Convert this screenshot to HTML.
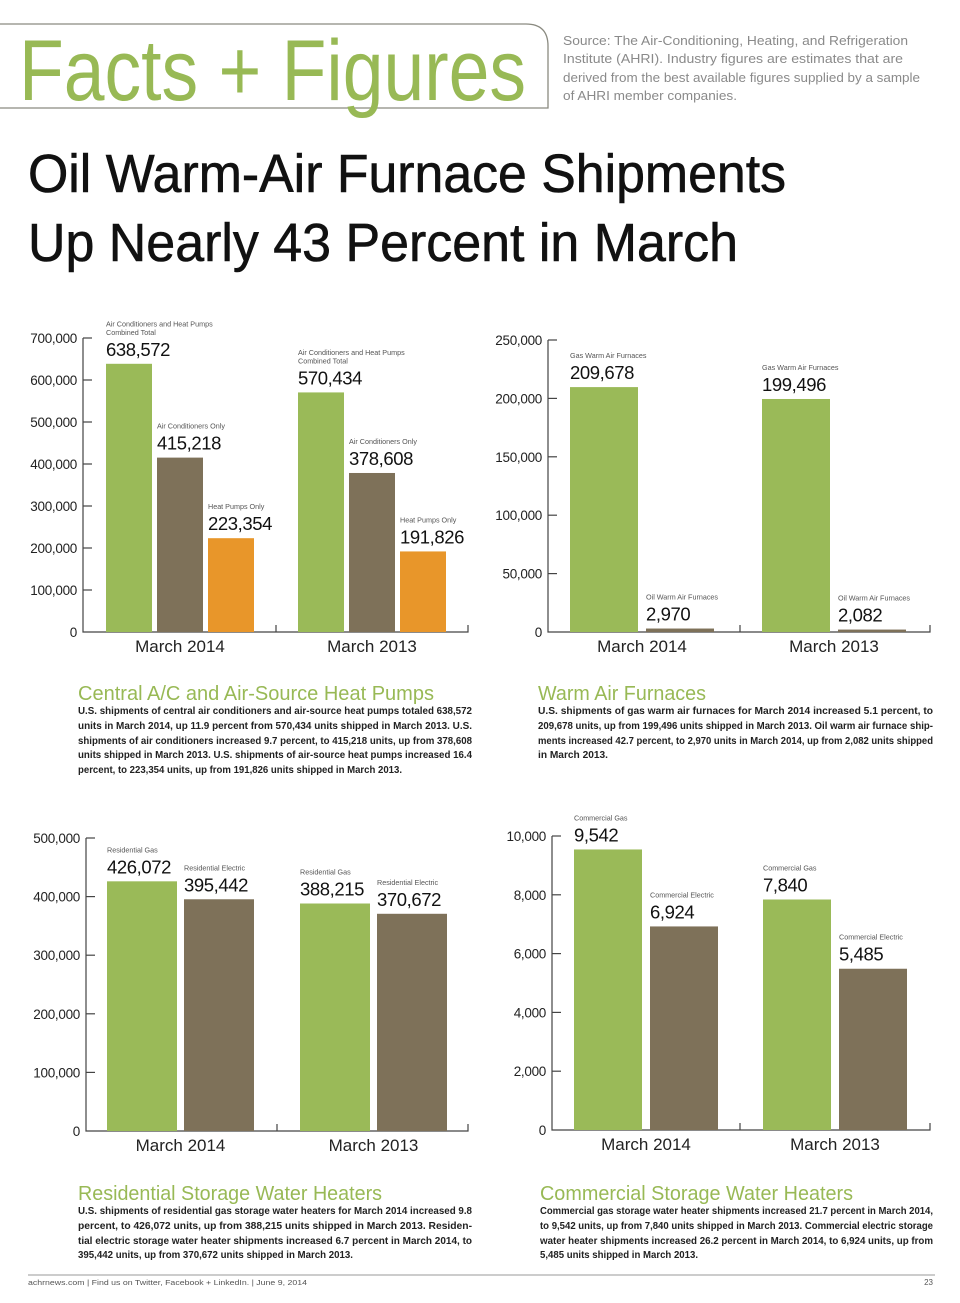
<!DOCTYPE html>
<html><head><meta charset="utf-8">
<style>
html,body{margin:0;padding:0;background:#fff;}
body{width:960px;height:1303px;position:relative;overflow:hidden;font-family:"Liberation Sans",sans-serif;}
svg{position:absolute;left:0;top:0;}
.p{font-size:10.4px;font-weight:bold;fill:#222;}
</style></head>
<body>
<svg id="page" width="960" height="1303" viewBox="0 0 960 1303" xmlns="http://www.w3.org/2000/svg" font-family="Liberation Sans, sans-serif">
<path d="M0 24 H526 Q548 24 548 46 V108 H0" fill="none" stroke="#8a8a80" stroke-width="1.3"/>
<text x="19" y="100" font-size="86" fill="#98b955" textLength="507" lengthAdjust="spacingAndGlyphs">Facts + Figures</text>
<g font-size="13" fill="#8a8a8a">
<text x="563" y="45" textLength="345" lengthAdjust="spacingAndGlyphs">Source: The Air-Conditioning, Heating, and Refrigeration</text>
<text x="563" y="63" textLength="340" lengthAdjust="spacingAndGlyphs">Institute (AHRI). Industry figures are estimates that are</text>
<text x="563" y="82" textLength="357" lengthAdjust="spacingAndGlyphs">derived from the best available figures supplied by a sample</text>
<text x="563" y="100" textLength="174" lengthAdjust="spacingAndGlyphs">of AHRI member companies.</text>
</g>
<text x="28" y="192" font-size="54" fill="#111" stroke="#111" stroke-width="0.6" textLength="758" lengthAdjust="spacingAndGlyphs">Oil Warm-Air Furnace Shipments</text>
<text x="28" y="261" font-size="54" fill="#111" stroke="#111" stroke-width="0.6" textLength="710" lengthAdjust="spacingAndGlyphs">Up Nearly 43 Percent in March</text>

<text x="78" y="700" font-size="20" fill="#98b955" textLength="356" lengthAdjust="spacingAndGlyphs">Central A/C and Air-Source Heat Pumps</text>
<text x="538" y="700" font-size="20" fill="#98b955" textLength="168" lengthAdjust="spacingAndGlyphs">Warm Air Furnaces</text>
<text x="78" y="1200" font-size="20" fill="#98b955" textLength="304" lengthAdjust="spacingAndGlyphs">Residential Storage Water Heaters</text>
<text x="540" y="1200" font-size="20" fill="#98b955" textLength="313" lengthAdjust="spacingAndGlyphs">Commercial Storage Water Heaters</text>

<g class="p">
<text x="78" y="714" textLength="394" lengthAdjust="spacingAndGlyphs">U.S. shipments of central air conditioners and air-source heat pumps totaled 638,572</text>
<text x="78" y="729" textLength="394" lengthAdjust="spacingAndGlyphs">units in March 2014, up 11.9 percent from 570,434 units shipped in March 2013. U.S.</text>
<text x="78" y="744" textLength="394" lengthAdjust="spacingAndGlyphs">shipments of air conditioners increased 9.7 percent, to 415,218 units, up from 378,608</text>
<text x="78" y="758" textLength="394" lengthAdjust="spacingAndGlyphs">units shipped in March 2013. U.S. shipments of air-source heat pumps increased 16.4</text>
<text x="78" y="773" textLength="324" lengthAdjust="spacingAndGlyphs">percent, to 223,354 units, up from 191,826 units shipped in March 2013.</text>
</g>
<g class="p">
<text x="538" y="714" textLength="395" lengthAdjust="spacingAndGlyphs">U.S. shipments of gas warm air furnaces for March 2014 increased 5.1 percent, to</text>
<text x="538" y="729" textLength="395" lengthAdjust="spacingAndGlyphs">209,678 units, up from 199,496 units shipped in March 2013. Oil warm air furnace ship-</text>
<text x="538" y="744" textLength="395" lengthAdjust="spacingAndGlyphs">ments increased 42.7 percent, to 2,970 units in March 2014, up from 2,082 units shipped</text>
<text x="538" y="758" textLength="70" lengthAdjust="spacingAndGlyphs">in March 2013.</text>
</g>
<g class="p">
<text x="78" y="1214" textLength="394" lengthAdjust="spacingAndGlyphs">U.S. shipments of residential gas storage water heaters for March 2014 increased 9.8</text>
<text x="78" y="1229" textLength="394" lengthAdjust="spacingAndGlyphs">percent, to 426,072 units, up from 388,215 units shipped in March 2013. Residen-</text>
<text x="78" y="1244" textLength="394" lengthAdjust="spacingAndGlyphs">tial electric storage water heater shipments increased 6.7 percent in March 2014, to</text>
<text x="78" y="1258" textLength="275" lengthAdjust="spacingAndGlyphs">395,442 units, up from 370,672 units shipped in March 2013.</text>
</g>
<g class="p">
<text x="540" y="1214" textLength="393" lengthAdjust="spacingAndGlyphs">Commercial gas storage water heater shipments increased 21.7 percent in March 2014,</text>
<text x="540" y="1229" textLength="393" lengthAdjust="spacingAndGlyphs">to 9,542 units, up from 7,840 units shipped in March 2013. Commercial electric storage</text>
<text x="540" y="1244" textLength="393" lengthAdjust="spacingAndGlyphs">water heater shipments increased 26.2 percent in March 2014, to 6,924 units, up from</text>
<text x="540" y="1258" textLength="158" lengthAdjust="spacingAndGlyphs">5,485 units shipped in March 2013.</text>
</g>

<line x1="28" y1="1275" x2="935" y2="1275" stroke="#999" stroke-width="1"/>
<text x="28" y="1285" font-size="7.5" fill="#555" textLength="279" lengthAdjust="spacingAndGlyphs">achrnews.com  |  Find us on Twitter, Facebook + LinkedIn.  |  June 9, 2014</text>
<text x="933" y="1285" font-size="8" fill="#555" text-anchor="end">23</text>
<g id="charts"></g>
</svg>

<script>
// Chart 1 data
const c1Groups = ["March 2014", "March 2013"];
const c1Series = ["Air Conditioners and Heat Pumps|Combined Total", "Air Conditioners Only", "Heat Pumps Only"];
const c1Values2014 = [638572, 415218, 223354];
const c1Values2013 = [570434, 378608, 191826];
const c1Ticks = [0, 100000, 200000, 300000, 400000, 500000, 600000, 700000];
// Chart 2 data
const c2Groups = ["March 2014", "March 2013"];
const c2Series = ["Gas Warm Air Furnaces", "Oil Warm Air Furnaces"];
const c2Values2014 = [209678, 2970];
const c2Values2013 = [199496, 2082];
const c2Ticks = [0, 50000, 100000, 150000, 200000, 250000];
// Chart 3 data
const c3Groups = ["March 2014", "March 2013"];
const c3Series = ["Residential Gas", "Residential Electric"];
const c3Values2014 = [426072, 395442];
const c3Values2013 = [388215, 370672];
const c3Ticks = [0, 100000, 200000, 300000, 400000, 500000];
// Chart 4 data
const c4Groups = ["March 2014", "March 2013"];
const c4Series = ["Commercial Gas", "Commercial Electric"];
const c4Values2014 = [9542, 6924];
const c4Values2013 = [7840, 5485];
const c4Ticks = [0, 2000, 4000, 6000, 8000, 10000];

const NS = "http://www.w3.org/2000/svg";
const COLORS = ["#9aba58", "#7e7159", "#e8962a"];
const root = document.getElementById("charts");
function mk(tag, attrs, parent) {
  const el = document.createElementNS(NS, tag);
  for (const k in attrs) el.setAttribute(k, attrs[k]);
  parent.appendChild(el);
  return el;
}
function fmt(v) { return v.toLocaleString("en-US"); }

function drawChart(id, cfg, groups, series, vals, ticks) {
  const g = mk("g", {}, root);
  
  
  const maxT = ticks[ticks.length - 1];
  const y = v => cfg.base - (v / maxT) * (cfg.base - cfg.top);
  const ax = mk("path", {d: `M${cfg.ax} ${cfg.top} V${cfg.base} H${cfg.right} V${cfg.base-7} M${cfg.mid} ${cfg.base} V${cfg.base-7}`, fill: "none", stroke: "#444", "stroke-width": 1.2}, g);
  
  
  ticks.forEach(t => {
    const yy = y(t);
    if (t > 0) {
      const tk = mk("line", {x1: cfg.ax, x2: cfg.ax + 9, y1: yy, y2: yy, stroke: "#444", "stroke-width": 1.2}, g);
      
      
    }
    const tl = mk("text", {x: cfg.ax - 6, y: yy + 5, "font-size": 13.5, fill: "#222", "text-anchor": "end", "letter-spacing": "-0.3"}, g);
    tl.textContent = fmt(t);
    
    
  });
  groups.forEach((gname, gi) => {
    const gv = vals[gi];
    gv.forEach((v, si) => {
      const x0 = cfg.gx[gi] + si * (cfg.bw + cfg.gap);
      const top = y(v);
      const r = mk("rect", {x: x0, y: top, width: cfg.bw, height: cfg.base - top, fill: COLORS[si]}, g);
      
      
      const num = mk("text", {x: x0, y: top - 8, "font-size": 18.5, fill: "#111", "letter-spacing": "-0.4"}, g);
      num.textContent = fmt(v);
      
      
      const lines = series[si].split("|");
      lines.forEach((ln, li) => {
        const lt = mk("text", {x: x0, y: top - 29 - (lines.length - 1 - li) * 8.5, "font-size": 7.2, fill: "#555"}, g);
        lt.textContent = ln;
        
        
      });
    });
    const n = gv.length;
    const cx = cfg.gx[gi] + (n * cfg.bw + (n - 1) * cfg.gap) / 2;
    const gl = mk("text", {x: cx, y: cfg.base + 20, "font-size": 17, fill: "#222", "text-anchor": "middle"}, g);
    gl.textContent = gname;
    
    
  });
}

drawChart("chart-central-ac", {ax: 83, top: 338, base: 632, right: 468, mid: 276, gx: [106, 298], bw: 46, gap: 5},
  c1Groups, c1Series, [c1Values2014, c1Values2013], c1Ticks);
drawChart("chart-warm-air-furnaces", {ax: 548, top: 340, base: 632, right: 930, mid: 740, gx: [570, 762], bw: 68, gap: 8},
  c2Groups, c2Series, [c2Values2014, c2Values2013], c2Ticks);
drawChart("chart-residential-water-heaters", {ax: 86, top: 838, base: 1131, right: 468, mid: 277, gx: [107, 300], bw: 70, gap: 7},
  c3Groups, c3Series, [c3Values2014, c3Values2013], c3Ticks);
drawChart("chart-commercial-water-heaters", {ax: 552, top: 836, base: 1130, right: 930, mid: 740, gx: [574, 763], bw: 68, gap: 8},
  c4Groups, c4Series, [c4Values2014, c4Values2013], c4Ticks);
</script>
</body></html>
